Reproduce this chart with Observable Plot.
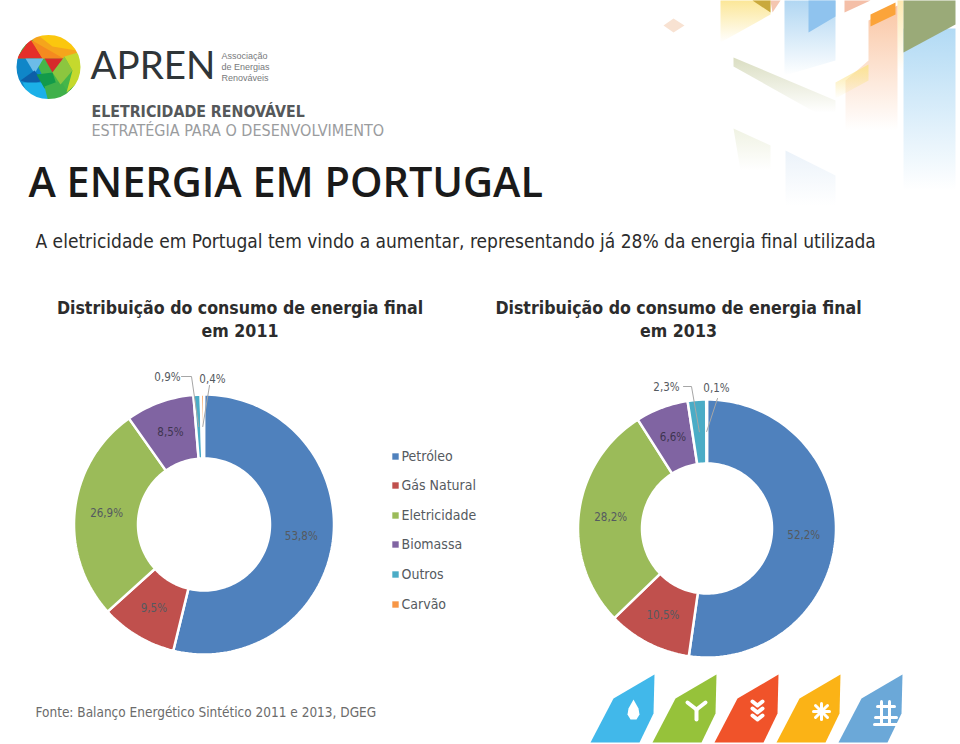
<!DOCTYPE html>
<html><head><meta charset="utf-8">
<script src="https://cdn.jsdelivr.net/npm/d3@7"></script>
<script src="https://cdn.jsdelivr.net/npm/@observablehq/plot@0.6"></script>
<style>html,body{margin:0;padding:0;background:#fff}svg{display:block}</style>
</head><body>
<div id="chart"></div>
<script>
// ---- data ----
const categories = ["Petróleo","Gás Natural","Eletricidade","Biomassa","Outros","Carvão"];
const values2011 = [53.8,9.5,26.9,8.5,0.9,0.4];
const values2013 = [52.2,10.5,28.2,6.6,2.3,0.1];
const colors = ["#4f81bd","#c0504d","#9bbb59","#8064a2","#4bacc6","#f79646"];
const pageTitle = "A ENERGIA EM PORTUGAL";
const pageSubtitle = "A eletricidade em Portugal tem vindo a aumentar, representando já 28% da energia final utilizada";
const chartTitle = "Distribuição do consumo de energia final";
const sourceNote = "Fonte: Balanço Energético Sintético 2011 e 2013, DGEG";

// ---- layout ----
const W = 960, H = 744;
const SANS = "DejaVu Sans Condensed, DejaVu Sans";
const donuts = [
  {year:2011, values:values2011, cx:203.5, cy:524, R:130, r:66,
   outside:{4:{lx:167,ly:377,elbow:[[181,376],[191,376]]},5:{lx:212,ly:379,elbow:[[209,385]]}}},
  {year:2013, values:values2013, cx:706.5, cy:528, R:129, r:65,
   outside:{4:{lx:666,ly:387,elbow:[[683,386],[691,386]]},5:{lx:716,ly:388,elbow:[[717,398]]}}}
];
const fmt = v => v.toFixed(1).replace(".",",")+"%";

const wedges = [], labels = [], leaders = [];
for (const d of donuts) {
  const pie = d3.pie().sort(null).value(v=>v)(d.values);
  pie.forEach((a,i)=>{
    const key = d.year+"-"+i, pts=[];
    const n = Math.max(2,Math.ceil((a.endAngle-a.startAngle)/0.03));
    const ang = k => a.startAngle+(a.endAngle-a.startAngle)*k/n;
    for(let k=0;k<=n;k++) pts.push([d.cx+d.R*Math.sin(ang(k)), d.cy-d.R*Math.cos(ang(k))]);
    for(let k=n;k>=0;k--) pts.push([d.cx+d.r*Math.sin(ang(k)), d.cy-d.r*Math.cos(ang(k))]);
    pts.forEach(p=>wedges.push({key,name:categories[i],x:p[0],y:p[1]}));
    const mid=(a.startAngle+a.endAngle)/2, rm=(d.R+d.r)/2;
    const c=[d.cx+rm*Math.sin(mid), d.cy-rm*Math.cos(mid)];
    const o=d.outside[i];
    labels.push({x:o?o.lx:c[0], y:o?o.ly:c[1], t:fmt(d.values[i]), dark:i===3});
    if(o){ [...o.elbow,c].forEach(p=>leaders.push({key,x:p[0],y:p[1]})); }
  });
}
const legendY=[456,485,515,544,574,604];
const legend=categories.map((c,i)=>({c,y:legendY[i]}));

// decorations
const logoPolys=[
  ["#0f86c8",[[14,58],[34,58],[44,80],[30,98],[14,84]]],
  ["#f5a51c",[[30,34],[66,34],[82,56],[64,58],[40,58]]],
  ["#e52f2a",[[16,58],[30,38],[42,58]]],
  ["#f58a1f",[[30,39],[63,58],[42,58]]],
  ["#fbc70e",[[34,32],[62,32],[76,50],[52,46]]],
  ["#d62b2b",[[44,58],[63,58],[52,72]]],
  ["#6cbce9",[[25,58],[43,58],[34,73]]],
  ["#0d5fa8",[[20,80],[34,70],[42,80],[32,84]]],
  ["#1bb0e8",[[22,82],[44,82],[50,100],[30,100]]],
  ["#129a4a",[[36,74],[52,72],[56,84],[44,88]]],
  ["#3fb04a",[[44,86],[60,80],[70,96],[48,102]]],
  ["#8cc63f",[[52,72],[64,56],[72,70],[60,84]]],
  ["#c5d92d",[[64,56],[84,50],[84,76],[66,92],[72,70]]]
];
const shapeBase=[[0,68],[23,24],[64,0],[63,39],[49,68]];
const shapeX=[590,652,714,776,838], shapeColor=["#41b8ea","#96c23a","#f0532a","#fbb316","#6ba8d8"];
const shapes=[];
shapeX.forEach((sx,i)=>shapeBase.forEach(p=>shapes.push({k:i,x:sx+p[0],y:674+p[1],c:shapeColor[i]})));
const iconLines=[
  [[687,702],[696,709],[705,702]],[[696,709],[696,719]],
  [[752,701],[757,705],[762,701]],[[752,708],[757,712],[762,708]],[[752,715],[757,719],[762,715]],
];
const iconData=[];
iconLines.forEach((l,i)=>l.forEach(p=>iconData.push({k:i,x:p[0],y:p[1]})));
const dropPts=[[633,699],[638,708],[639,714],[636,719],[630,719],[627,714],[628,708]];
const sunLines=[[[821,703],[821,719]],[[813,711],[829,711]],[[815,705],[827,717]],[[815,717],[827,705]]];
const gridLines=[[[877,706],[894,706]],[[875,717],[896,717]],[[881,701],[881,722]],[[889,701],[889,722]],[[874,724],[897,724]]];
const seg=[];
[...sunLines,...gridLines].forEach((l,i)=>l.forEach(p=>seg.push({k:i,x:p[0],y:p[1]})));

// faded background blocks, top right corner
const fadeColors={blue:"#a9d6f3",peach:"#f9c09a",yellow:"#fbe48c",olive:"#d6dabb",sky:"#a8d2f1",pale:"#eef1e0",paleblue:"#e9f1f9",stripe:"#fde7a8"};
const fadeBlocks=[
  ["blue",[[903,28],[955,28],[955,190],[903,190]]],
  ["stripe",[[897,0],[903,0],[903,70],[897,70]]],
  ["peach",[[868,20],[897,5],[897,130],[845,130],[845,80],[868,60]]],
  ["yellow",[[720,0],[770,0],[770,14],[720,42]]],
  ["sky",[[784,0],[835,0],[835,60],[784,75]]],
  ["olive",[[733,57],[835,100],[835,112],[815,112],[733,66]]],
  ["yellow",[[835,82],[868,64],[868,80],[835,98]]],
  ["pale",[[733,128],[770,145],[770,170],[740,170]]],
  ["paleblue",[[785,150],[835,175],[835,205],[785,205]]]
];
const flatBlocks=[
  ["#9aaa78",[[903,0],[955,0],[955,24],[903,52]]],
  ["#8fc3ee",[[808,0],[835,0],[835,16],[808,32]]],
  ["#fba43a",[[870,14],[895,2],[895,14],[870,26]]],
  ["#f8e2d2",[[663,25],[673,18],[684,25],[673,32]]],
  ["#f4bfa8",[[844,0],[870,0],[844,12]]],
  ["#f4c6b0",[[770,0],[780,0],[772,12]]],
  ["#c9a93c",[[752,0],[770,0],[770,12]]]
];

const defs = () => {
  const s = d3.create("svg:defs");
  for (const [k,c] of Object.entries(fadeColors)) {
    const g = s.append("linearGradient").attr("id","fade-"+k).attr("x1",0).attr("y1",0).attr("x2",0).attr("y2",1);
    g.append("stop").attr("offset","0%").attr("stop-color",c).attr("stop-opacity",0.9);
    g.append("stop").attr("offset","100%").attr("stop-color",c).attr("stop-opacity",0);
  }
  return s.node();
};

const T=(text,x,y,o)=>Plot.text([text],{x:()=>x,y:()=>y,text:d=>d,textAnchor:"start",lineAnchor:"middle",...o});
const poly=(p,c)=>Plot.line(p,{x:d=>d[0],y:d=>d[1],fill:c,stroke:"none",curve:"linear-closed"});

const chart = Plot.plot({
  width:W,height:H,margin:0,
  x:{domain:[0,W],range:[0,W],axis:null},
  y:{domain:[0,H],range:[0,H],axis:null},
  color:{domain:categories,range:colors},
  marks:[
    defs,
    // faded corner decoration
    ...fadeBlocks.map(([k,p])=>poly(p,`url(#fade-${k})`)),
    ...flatBlocks.map(([c,p])=>poly(p,c)),
    // logo
    Plot.dot([[48,66.5]],{x:d=>d[0],y:d=>d[1],r:32,fill:"#45b649"}),
    ...logoPolys.map(([c,p])=>poly(p,c)),
    Plot.dot([[48,66.5]],{x:d=>d[0],y:d=>d[1],r:44,stroke:"#fff",strokeWidth:24,fill:"none"}),
    T("APREN",90,66,{fontFamily:"Lato",fontSize:38.5,fill:"#2f3538",fontWeight:400}),
    T("Associação",221,55.5,{fontFamily:"Liberation Sans",fontSize:9,fill:"#77797b"}),
    T("de Energias",221,67,{fontFamily:"Liberation Sans",fontSize:9,fill:"#77797b"}),
    T("Renováveis",221,78,{fontFamily:"Liberation Sans",fontSize:9,fill:"#77797b"}),
    T("ELETRICIDADE RENOVÁVEL",91,111.5,{fontFamily:SANS,fontWeight:"bold",fontSize:15.8,fill:"#55585a"}),
    T("ESTRATÉGIA PARA O DESENVOLVIMENTO",91,130,{fontFamily:SANS,fontSize:16,fill:"#9a9c9e"}),
    // titles
    T(pageTitle,28,183,{fontFamily:"Open Sans",fontWeight:600,fontSize:41.4,fill:"#1a1a1a"}),
    T(pageSubtitle,35,241,{fontFamily:SANS,fontSize:19,fill:"#2c2c2c"}),
    T(chartTitle,239.5,308,{fontFamily:SANS,fontWeight:"bold",fontSize:17.6,fill:"#2c2c2c",textAnchor:"middle"}),
    T("em 2011",239.5,331,{fontFamily:SANS,fontWeight:"bold",fontSize:17.6,fill:"#2c2c2c",textAnchor:"middle"}),
    T(chartTitle,678,308,{fontFamily:SANS,fontWeight:"bold",fontSize:17.6,fill:"#2c2c2c",textAnchor:"middle"}),
    T("em 2013",678,331,{fontFamily:SANS,fontWeight:"bold",fontSize:17.6,fill:"#2c2c2c",textAnchor:"middle"}),
    // donuts
    Plot.line(wedges,{x:"x",y:"y",z:"key",fill:"name",stroke:"#fff",strokeWidth:2.5,strokeLinejoin:"miter",curve:"linear-closed"}),
    Plot.line(leaders,{x:"x",y:"y",z:"key",stroke:"#a6a6a6",strokeWidth:1}),
    Plot.text(labels,{x:"x",y:"y",text:"t",fontFamily:SANS,fontSize:11.5,fill:d=>d.dark?"#3f3550":"#555a60"}),
    // legend
    Plot.dot(legend,{x:()=>395,y:"y",symbol:"square",r:3.6,fill:"c"}),
    Plot.text(legend,{x:()=>401,y:"y",text:"c",textAnchor:"start",fontFamily:SANS,fontSize:14,fill:"#555a60"}),
    // source
    T(sourceNote,35,712,{fontFamily:SANS,fontSize:13.5,fill:"#6b6b6b"}),
    // bottom shapes
    Plot.line(shapes,{x:"x",y:"y",z:"k",fill:"c",stroke:"none",curve:"linear-closed"}),
    poly(dropPts,"#fff"),
    Plot.line(iconData,{x:"x",y:"y",z:"k",stroke:"#fff",strokeWidth:4}),
    Plot.line(seg,{x:"x",y:"y",z:"k",stroke:"#fff",strokeWidth:3})
  ]
});
document.getElementById("chart").append(chart);
</script>
</body></html>
